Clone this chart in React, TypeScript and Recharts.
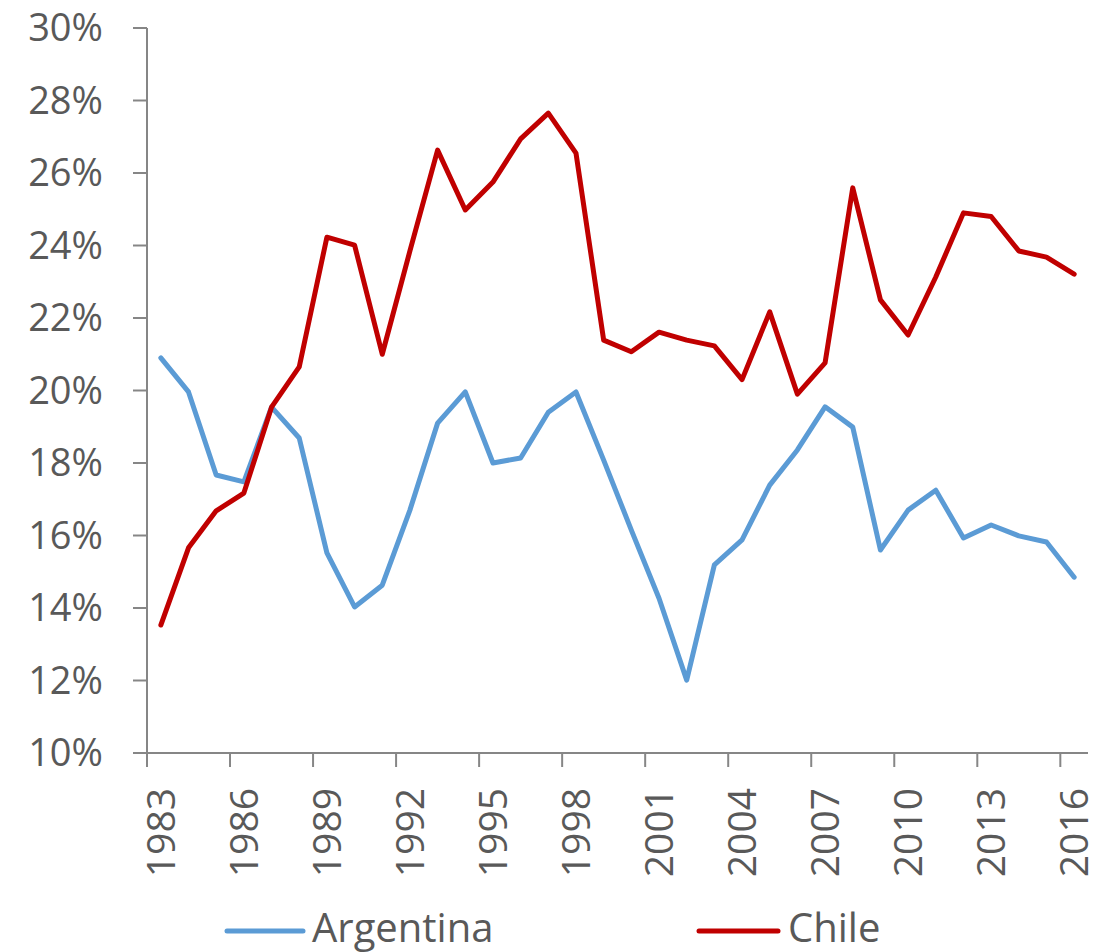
import React from "react";
import { LineChart, Line, XAxis, YAxis, Legend } from "recharts";

const years = [
  1983, 1984, 1985, 1986, 1987, 1988, 1989, 1990, 1991, 1992, 1993, 1994,
  1995, 1996, 1997, 1998, 1999, 2000, 2001, 2002, 2003, 2004, 2005, 2006,
  2007, 2008, 2009, 2010, 2011, 2012, 2013, 2014, 2015, 2016,
];

const argentina = [
  20.9, 19.96, 17.67, 17.48, 19.54, 18.69, 15.52, 14.03, 14.63, 16.7, 19.1, 19.96,
  18.0, 18.14, 19.4, 19.96, 18.08, 16.15, 14.27, 12.01, 15.19, 15.88, 17.39, 18.36,
  19.55, 18.99, 15.6, 16.7, 17.25, 15.93, 16.29, 15.99, 15.82, 14.85,
];

const chile = [
  13.53, 15.66, 16.68, 17.17, 19.54, 20.65, 24.23, 24.01, 21.0, 23.85, 26.63, 24.98,
  25.75, 26.94, 27.65, 26.55, 21.39, 21.07, 21.61, 21.39, 21.23, 20.3, 22.17, 19.9,
  20.76, 25.59, 22.5, 21.53, 23.13, 24.9, 24.8, 23.85, 23.68, 23.21,
];

const yTicks = [10, 12, 14, 16, 18, 20, 22, 24, 26, 28, 30];

const seriesNames = ["Argentina", "Chile"];
const seriesColors = ["#5B9BD5", "#C00000"];

const data = years.map((y, i) => ({
  year: y,
  Argentina: argentina[i],
  Chile: chile[i],
}));

const AXIS = "#868686";
const TEXT = "#595959";
const FONT = "'Open Sans', sans-serif";
const HALF_STEP = (1119 - 147 - 31) / (2 * years.length);

const XTick = (props: any) => {
  const { x, y, payload } = props;
  return (
    <g>
      <line x1={x - HALF_STEP} x2={x - HALF_STEP} y1={y} y2={y + 14} stroke={AXIS} strokeWidth={2} />
      <text
        x={x + 14}
        y={y + 35}
        transform={`rotate(-90, ${x + 14}, ${y + 35})`}
        textAnchor="end"
        fill={TEXT}
        fontSize={39}
        fontFamily={FONT}
      >
        {payload.value}
      </text>
    </g>
  );
};

const YTick = (props: any) => {
  const { x, y, payload } = props;
  return (
    <text x={x} y={y + 13} textAnchor="end" fill={TEXT} fontSize={38} fontFamily={FONT}>
      {`${payload.value}%`}
    </text>
  );
};

const LegendContent = () => {
  const items = [
    { name: seriesNames[0], color: seriesColors[0], x1: 227, x2: 303, tx: 312 },
    { name: seriesNames[1], color: seriesColors[1], x1: 699, x2: 778, tx: 788 },
  ];
  return (
    <svg width={1119} height={59} style={{ display: "block", overflow: "visible" }}>
      {items.map((it) => (
        <g key={it.name}>
          <line x1={it.x1} x2={it.x2} y1={38} y2={38} stroke={it.color} strokeWidth={5} strokeLinecap="round" />
          <text x={it.tx} y={49} fill={TEXT} fontSize={40} fontFamily={FONT}>
            {it.name}
          </text>
        </g>
      ))}
    </svg>
  );
};

export default function App() {
  return (
    <div style={{ position: "absolute", left: 0, top: 0, width: 1119, height: 952, background: "#fff" }}>
      <LineChart
        width={1119}
        height={952}
        data={data}
        margin={{ top: 28, right: 31, bottom: 0, left: 0 }}
      >
        <XAxis
          dataKey="year"
          type="category"
          interval={2}
          padding={{ left: HALF_STEP, right: HALF_STEP }}
          height={140}
          axisLine={{ stroke: AXIS, strokeWidth: 2 }}
          tickLine={false}
          tickSize={0}
          tickMargin={0}
          tick={<XTick />}
        />
        <YAxis
          type="number"
          domain={[10, 30]}
          ticks={yTicks}
          interval={0}
          width={147}
          axisLine={{ stroke: AXIS, strokeWidth: 2 }}
          tickLine={{ stroke: AXIS, strokeWidth: 2 }}
          tickSize={14}
          tickMargin={30}
          tick={<YTick />}
        />
        <Legend
          verticalAlign="bottom"
          content={<LegendContent />}
          wrapperStyle={{ left: 0, width: 1119, height: 59 }}
        />
        <Line
          type="linear"
          dataKey="Argentina"
          name={seriesNames[0]}
          stroke={seriesColors[0]}
          strokeWidth={5}
          strokeLinecap="round"
          strokeLinejoin="round"
          dot={false}
          isAnimationActive={false}
        />
        <Line
          type="linear"
          dataKey="Chile"
          name={seriesNames[1]}
          stroke={seriesColors[1]}
          strokeWidth={5}
          strokeLinecap="round"
          strokeLinejoin="round"
          dot={false}
          isAnimationActive={false}
        />
      </LineChart>
    </div>
  );
}
